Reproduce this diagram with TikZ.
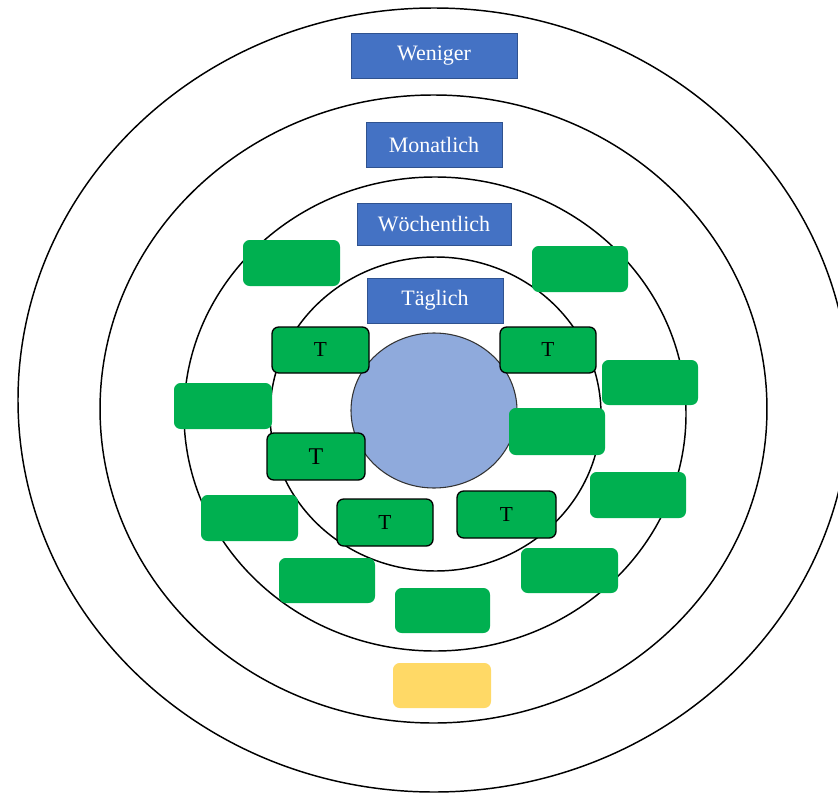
\documentclass[tikz,border=0pt]{standalone}
\usepackage{fontspec}
\setmainfont{Liberation Serif}
\usetikzlibrary{shapes.geometric}
\definecolor{bfill}{HTML}{4472C4}
\definecolor{bdraw}{HTML}{2F528F}
\definecolor{gfill}{HTML}{00B050}
\definecolor{yfill}{HTML}{FFD966}
\definecolor{cfill}{HTML}{8FAADC}
\newcommand\boxat[7]{\node[#2, minimum width={(#5-#3)*0.75pt}, minimum height={(#6-#4)*0.75pt}] (#1) at ({(#3+#5)/2},{(#4+#6)/2}) {#7};}
\begin{document}
\begin{tikzpicture}[x=0.75pt,y=-0.75pt,
  ring/.style={draw=black,line width=1.1pt},
  bluebox/.style={rectangle,fill=bfill,draw=bdraw,line width=0.6pt,inner sep=0pt,outer sep=0pt,text=white,font=\fontsize{16.5}{18}\selectfont},
  greenbox/.style={rectangle,rounded corners=5pt,fill=gfill,inner sep=0pt,outer sep=0pt},
  tbox/.style={rectangle,rounded corners=5pt,fill=gfill,draw=black,line width=1pt,inner sep=0pt,outer sep=0pt,text=black,font=\fontsize{16}{18}\selectfont},
  yellowbox/.style={rectangle,rounded corners=5pt,fill=yfill,inner sep=0pt,outer sep=0pt}]
\useasboundingbox (0,0) rectangle (838,795);
% rings
\draw[ring] (434,400) ellipse [x radius=312pt, y radius=294pt];
\draw[ring] (433.5,409) ellipse [x radius=250.1pt, y radius=235.5pt];
\draw[ring] (435,414) ellipse [x radius=188.25pt, y radius=177.75pt];
\draw[ring] (435.5,414) ellipse [x radius=124.1pt, y radius=117.75pt];
% centre
\node[ellipse,fill=cfill,draw=black!80,line width=0.8pt,minimum width=124.5pt,minimum height=116.25pt,inner sep=0pt] (centre) at (434,410.5) {};
% labels
\boxat{weniger}{bluebox}{351}{33}{517}{78}{Weniger}
\boxat{monatlich}{bluebox}{366}{122}{502}{167}{Monatlich}
\boxat{woechentlich}{bluebox}{357}{203}{511}{245}{Wöchentlich}
\boxat{taeglich}{bluebox}{367}{278}{503}{323}{Täglich}
% green boxes
\boxat{g1}{greenbox}{243}{240}{340}{286}{}
\boxat{g2}{greenbox}{532}{246}{628}{292}{}
\boxat{g3}{greenbox}{602}{360}{698}{405}{}
\boxat{g4}{greenbox}{174}{383}{272}{429}{}
\boxat{g5}{greenbox}{509}{408}{605}{455}{}
\boxat{g6}{greenbox}{590}{472}{686}{518}{}
\boxat{g7}{greenbox}{201}{495}{298}{541}{}
\boxat{g8}{greenbox}{521}{548}{618}{593}{}
\boxat{g9}{greenbox}{279}{558}{375}{603}{}
\boxat{g10}{greenbox}{395}{588}{490}{633}{}
\boxat{y1}{yellowbox}{393}{663}{491}{708}{}
% T boxes
\boxat{t1}{tbox}{272}{327}{369}{373}{T}
\boxat{t2}{tbox}{500}{327}{596}{373}{T}
\boxat{t3}{tbox,font=\fontsize{18}{20}\selectfont}{267}{433}{365}{480}{T}
\boxat{t4}{tbox}{337}{499}{433}{546}{T}
\boxat{t5}{tbox}{457}{491}{556}{538}{T}
\end{tikzpicture}
\end{document}
